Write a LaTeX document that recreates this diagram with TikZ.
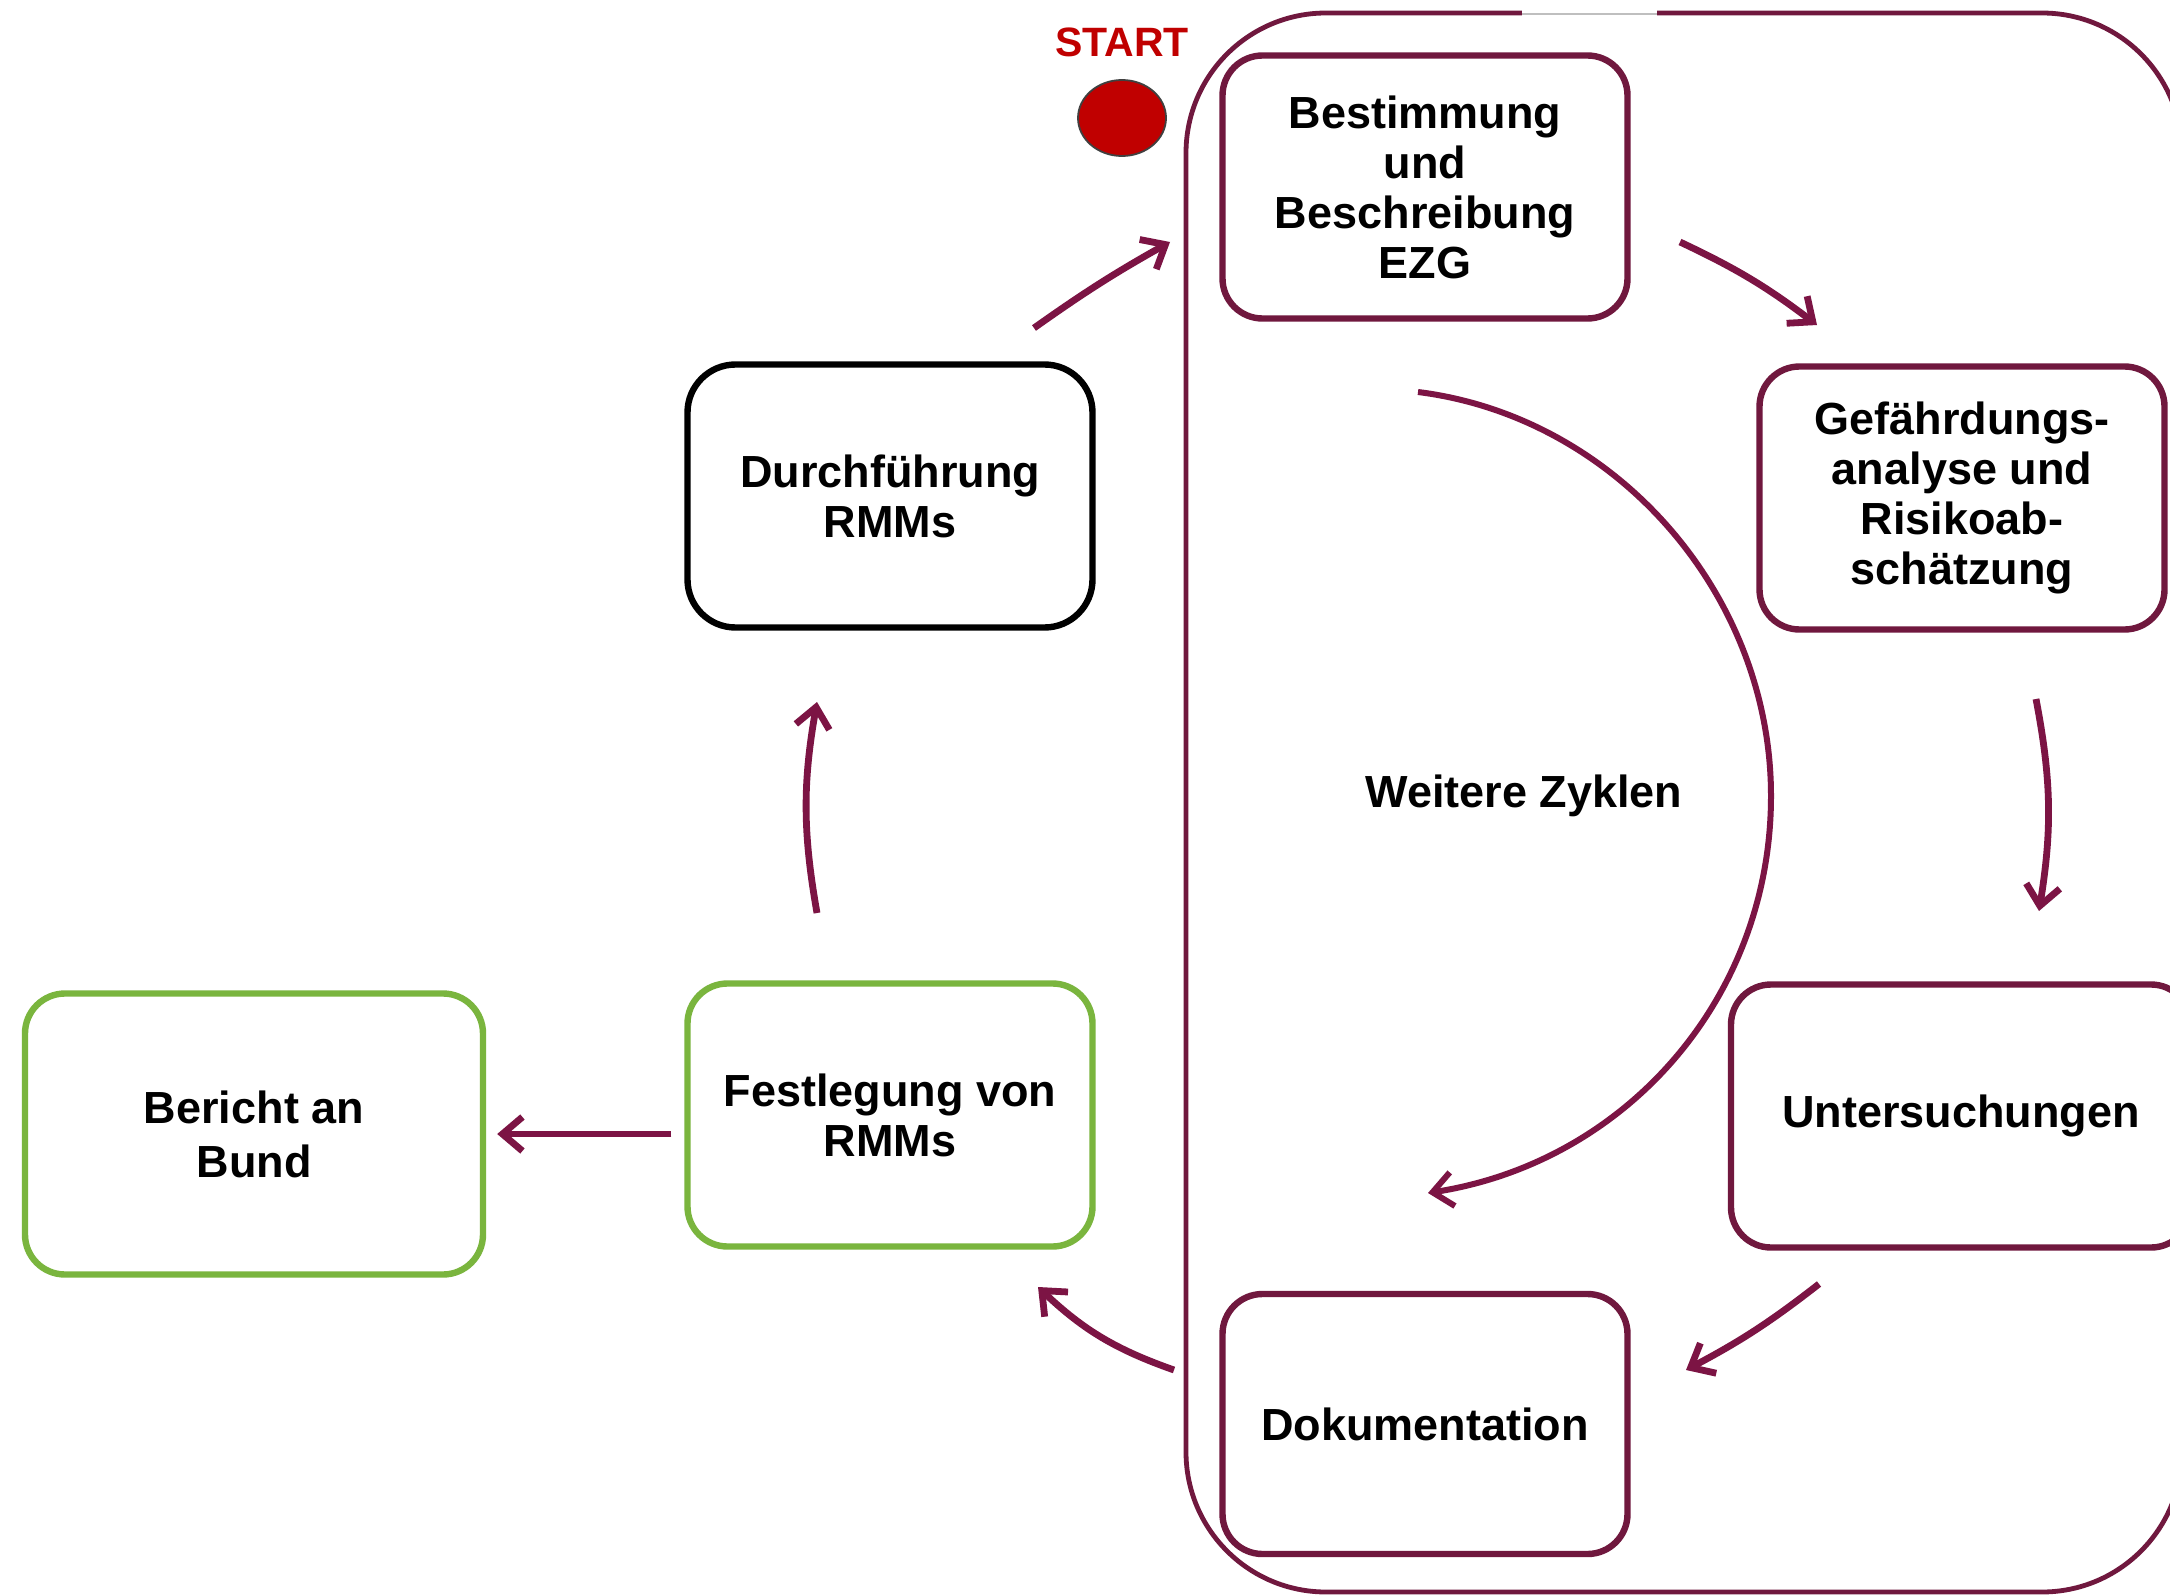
\documentclass[tikz,border=0pt]{standalone}
\usepackage{fontspec}
\setmainfont{Liberation Sans}
\usetikzlibrary{arrows.meta,shapes.geometric}
\definecolor{maroon}{RGB}{112,24,62}
\definecolor{arrowc}{RGB}{124,20,68}
\definecolor{lgreen}{RGB}{122,181,62}
\definecolor{startred}{RGB}{192,0,0}
\begin{document}
\begin{tikzpicture}[x=0.5pt,y=-0.5pt,
  box/.style={draw=maroon, line width=3.2pt, rounded corners=20pt, align=center,
    font=\bfseries\fontsize{22.5}{25}\selectfont, inner sep=0pt,
    minimum width=202.5pt, minimum height=131.5pt},
  greenbox/.style={box, draw=lgreen},
  blackbox/.style={box, draw=black, rounded corners=24pt},
  flowarrow/.style={draw=arrowc, line width=3.4pt, -{Straight Barb[length=10pt,width=17pt]}},
  outerframe/.style={draw=maroon, line width=2.4pt, rounded corners=70pt},
  lbl/.style={font=\bfseries\fontsize{22.5}{25}\selectfont}]
\useasboundingbox (0,0) rectangle (2170,1595);
\fill[white] (0,0) rectangle (2170,1595);
\clip (0,0) rectangle (2170,1595);

% outer cycle frame
\draw[outerframe] (1186,13) rectangle (2182,1592);
\draw[white, line width=3.5pt] (1522,13) -- (1657,13);
\draw[black!25, line width=1pt] (1522,14) -- (1657,14);

% nodes
\node[box] (bes) at (1425,187) {Bestimmung\\und\\Beschreibung\\EZG};
\node[box] (gef) at (1962,498) {Gefährdungs-\\analyse und\\Risikoab-\\schätzung};
\node[box, minimum width=230pt] (unt) at (1961,1116) {Untersuchungen};
\node[box, minimum height=130pt] (dok) at (1425,1424) {Dokumentation};
\node[blackbox] (dur) at (890,496) {Durchführung\\RMMs};
\node[greenbox] (fes) at (890,1115) {Festlegung von\\RMMs};
\node[greenbox, minimum width=229pt, minimum height=140.5pt] (ber) at (254,1134) {Bericht an\\[2pt]Bund};

\node[text=startred, font=\bfseries\fontsize{20.5}{22}\selectfont] (start) at (1122,42) {START};
\node[ellipse, draw=black!75, line width=0.9pt, fill=startred, minimum width=44pt, minimum height=38pt, inner sep=0pt] (dot) at (1122,118) {};

\node[lbl] (wz) at (1524,796) {Weitere Zyklen};

% connector end points
\coordinate (a1s) at (1034,328); \coordinate (a1e) at (1170,242);
\coordinate (a2s) at (1680,242); \coordinate (a2e) at (1817,325);
\coordinate (a3s) at (2036,699); \coordinate (a3e) at (2039,911);
\coordinate (a4s) at (1819,1284); \coordinate (a4e) at (1686,1370);
\coordinate (a5s) at (1174,1370); \coordinate (a5e) at (1038,1287);
\coordinate (a6s) at (817,913); \coordinate (a6e) at (817,702);
\coordinate (arcs) at (1418,392); \coordinate (arcm) at (1771,796); \coordinate (arce) at (1428,1193);

\draw[flowarrow] (a1s) to[bend left=3] (a1e);
\draw[flowarrow] (a2s) to[bend left=6] (a2e);
\draw[flowarrow] (a3s) to[bend left=10] (a3e);
\draw[flowarrow] (a4s) to[bend left=5] (a4e);
\draw[flowarrow] (a5s) to[bend left=12] (a5e);
\draw[flowarrow] (a6s) to[bend left=10] (a6e);
\draw[flowarrow, shorten <=6.5pt, shorten >=5.5pt] (fes.west |- ber.east) -- (ber.east);
\draw[flowarrow, line width=3pt] (arcs) .. controls (1617,417) and (1771,595) .. (arcm)
  .. controls (1771,997) and (1627,1162) .. (arce);
\end{tikzpicture}
\end{document}
